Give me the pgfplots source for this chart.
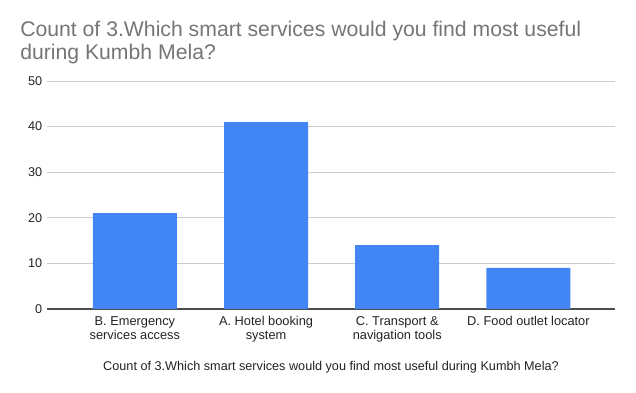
\documentclass[border=0pt]{standalone}
\usepackage{pgfplots}
\pgfplotsset{compat=1.18}
\usepackage{fontspec}
\setmainfont{Liberation Sans}
\definecolor{barblue}{HTML}{4285F4}
\definecolor{titlegray}{HTML}{757575}
\definecolor{gridgray}{HTML}{CCCCCC}
\definecolor{textdark}{HTML}{222222}
\begin{document}
\begin{tikzpicture}[x=0.75pt,y=0.75pt]
\path[use as bounding box] (0,0) rectangle (636,393);
\node[anchor=north west, align=left, font=\fontsize{15.9}{16.8}\selectfont, text=titlegray, inner sep=0] at (20,372) {Count of 3.Which smart services would you find most useful\\during Kumbh Mela?};
\begin{axis}[
  at={(35.25pt,63pt)}, anchor=south west,
  scale only axis, width=426pt, height=171pt,
  ymin=0, ymax=50, ytick={0,10,20,30,40,50},
  xmin=-0.67, xmax=3.66,
  xtick={0,1,2,3},
  xticklabels={{B. Emergency\\services access},{A. Hotel booking\\system},{C. Transport \&\\navigation tools},{D. Food outlet locator}},
  xticklabel style={align=center, font=\fontsize{9.6}{10.4}\selectfont, text=textdark, anchor=north, yshift=-2pt},
  yticklabel style={font=\fontsize{9.5}{10}\selectfont, text=textdark},
  /pgf/number format/assume math mode=true,
  axis x line=bottom, axis y line=left,
  x axis line style={draw=textdark!80, line width=0.8pt, -},
  y axis line style={draw=none},
  major tick length=0pt,
  ymajorgrids, grid style={gridgray, line width=0.6pt},
  ybar, bar width=63pt,
  xlabel={Count of 3.Which smart services would you find most useful during Kumbh Mela?},
  xlabel style={at={(axis description cs:0.5,0)}, anchor=center, yshift=-43.5pt, font=\fontsize{9.5}{10}\selectfont, text=textdark},
  axis on top=false,
]
\addplot[fill=barblue, draw=none] coordinates {(0,21) (1,41) (2,14) (3,9)};
\end{axis}
\end{tikzpicture}
\end{document}
